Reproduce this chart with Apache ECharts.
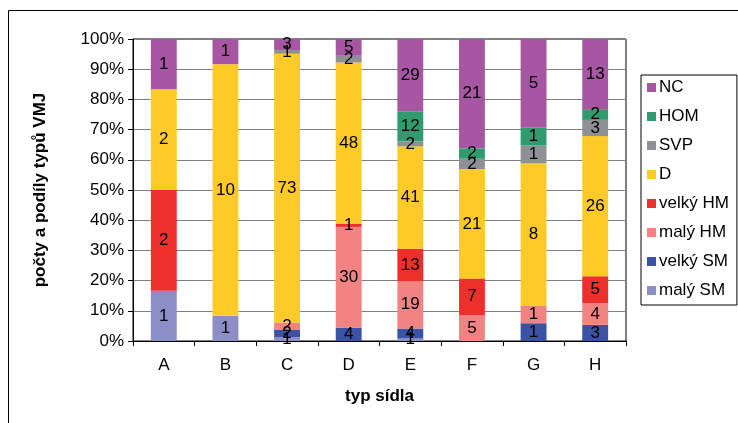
<!DOCTYPE html>
<html>
<head>
<meta charset="utf-8">
<script src="https://cdn.jsdelivr.net/npm/echarts@6/dist/echarts.min.js"></script>
<style>
  html, body { margin: 0; padding: 0; background: #fff; }
  #chart { width: 738px; height: 423px; }
</style>
</head>
<body>
<div id="chart"></div>
<script>
// Settlement types on the category axis
const categories = ['A', 'B', 'C', 'D', 'E', 'F', 'G', 'H'];

// Counts of VMJ types per settlement type (0 = none)
const malySM  = [1, 1, 1, 0, 1, 0, 0, 0];
const velkySM = [0, 0, 2, 4, 4, 0, 1, 3];
const malyHM  = [0, 0, 2, 30, 19, 5, 1, 4];
const velkyHM = [2, 0, 0, 1, 13, 7, 0, 5];
const typD    = [2, 10, 73, 48, 41, 21, 8, 26];
const SVP     = [0, 0, 1, 2, 2, 2, 1, 3];
const HOM     = [0, 0, 0, 0, 12, 2, 1, 2];
const NC      = [1, 1, 3, 5, 29, 21, 5, 13];

// Tick labels of the percentage axis
const yTicks = ['0%', '10%', '20%', '30%', '40%', '50%', '60%', '70%', '80%', '90%', '100%'];

// Stack order, bottom to top
const seriesDefs = [
  { name: 'malý SM',  counts: malySM,  color: '#8C8EC6' },
  { name: 'velký SM', counts: velkySM, color: '#3A53A4' },
  { name: 'malý HM',  counts: malyHM,  color: '#F28383' },
  { name: 'velký HM', counts: velkyHM, color: '#EE302C' },
  { name: 'D',        counts: typD,    color: '#FDCA27' },
  { name: 'SVP',      counts: SVP,     color: '#8F9096' },
  { name: 'HOM',      counts: HOM,     color: '#2F9B6E' },
  { name: 'NC',       counts: NC,      color: '#A656A2' }
];

const totals = categories.map((_, i) =>
  seriesDefs.reduce((s, d) => s + d.counts[i], 0));

const FONT = 'Liberation Sans, Arial, sans-serif';

const series = seriesDefs.map(d => ({
  name: d.name,
  type: 'bar',
  stack: 'share',
  barWidth: '42%',
  itemStyle: { color: d.color },
  data: d.counts.map((c, i) => c > 0 ? { value: c / totals[i] * 100, count: c } : null),
  label: {
    show: true,
    position: 'inside',
    color: '#000',
    fontFamily: FONT,
    fontSize: 17,
    formatter: p => p.data && p.data.count ? String(p.data.count) : ''
  }
}));

const chart = echarts.init(document.getElementById('chart'), null, { renderer: 'canvas' });
chart.setOption({
  animation: false,
  backgroundColor: '#fff',
  textStyle: { fontFamily: FONT },
  graphic: [{
    type: 'rect',
    shape: { x: 8.5, y: 10.5, width: 740, height: 430 },
    style: { fill: 'none', stroke: '#000', lineWidth: 1 },
    silent: true
  }],
  grid: {
    left: 133, top: 39, width: 493, height: 302,
    show: true, borderColor: '#000', borderWidth: 1, backgroundColor: 'transparent'
  },
  legend: {
    orient: 'vertical',
    left: 641, top: 75,
    width: 96,
    padding: [4, 8, 6, 6],
    itemGap: 12,
    itemWidth: 9, itemHeight: 9,
    icon: 'rect',
    borderColor: '#000', borderWidth: 1,
    textStyle: { fontFamily: FONT, fontSize: 17, color: '#000', padding: [0, 0, 0, -2] },
    data: ['NC', 'HOM', 'SVP', 'D', 'velký HM', 'malý HM', 'velký SM', 'malý SM']
  },
  xAxis: {
    type: 'category',
    data: categories,
    name: 'typ sídla',
    nameLocation: 'middle',
    nameGap: 47,
    nameTextStyle: { fontFamily: FONT, fontSize: 17, fontWeight: 'bold', color: '#000' },
    axisLine: { lineStyle: { color: '#000', width: 1 } },
    axisTick: { show: true, length: 5, lineStyle: { color: '#000' } },
    axisLabel: { fontFamily: FONT, fontSize: 17, color: '#000', margin: 16 }
  },
  yAxis: {
    type: 'value',
    min: 0, max: 100, interval: 10,
    name: 'počty a podíly typů VMJ',
    nameLocation: 'middle',
    nameGap: 84,
    nameTextStyle: { fontFamily: FONT, fontSize: 17, fontWeight: 'bold', color: '#000' },
    axisLine: { show: true, lineStyle: { color: '#000', width: 1 } },
    axisTick: { show: true, length: 5, lineStyle: { color: '#000' } },
    splitLine: { lineStyle: { color: '#808080', width: 1 } },
    axisLabel: {
      fontFamily: FONT, fontSize: 17, color: '#000', margin: 9,
      formatter: v => yTicks[Math.round(v / 10)]
    }
  },
  series: series
});
</script>
</body>
</html>
